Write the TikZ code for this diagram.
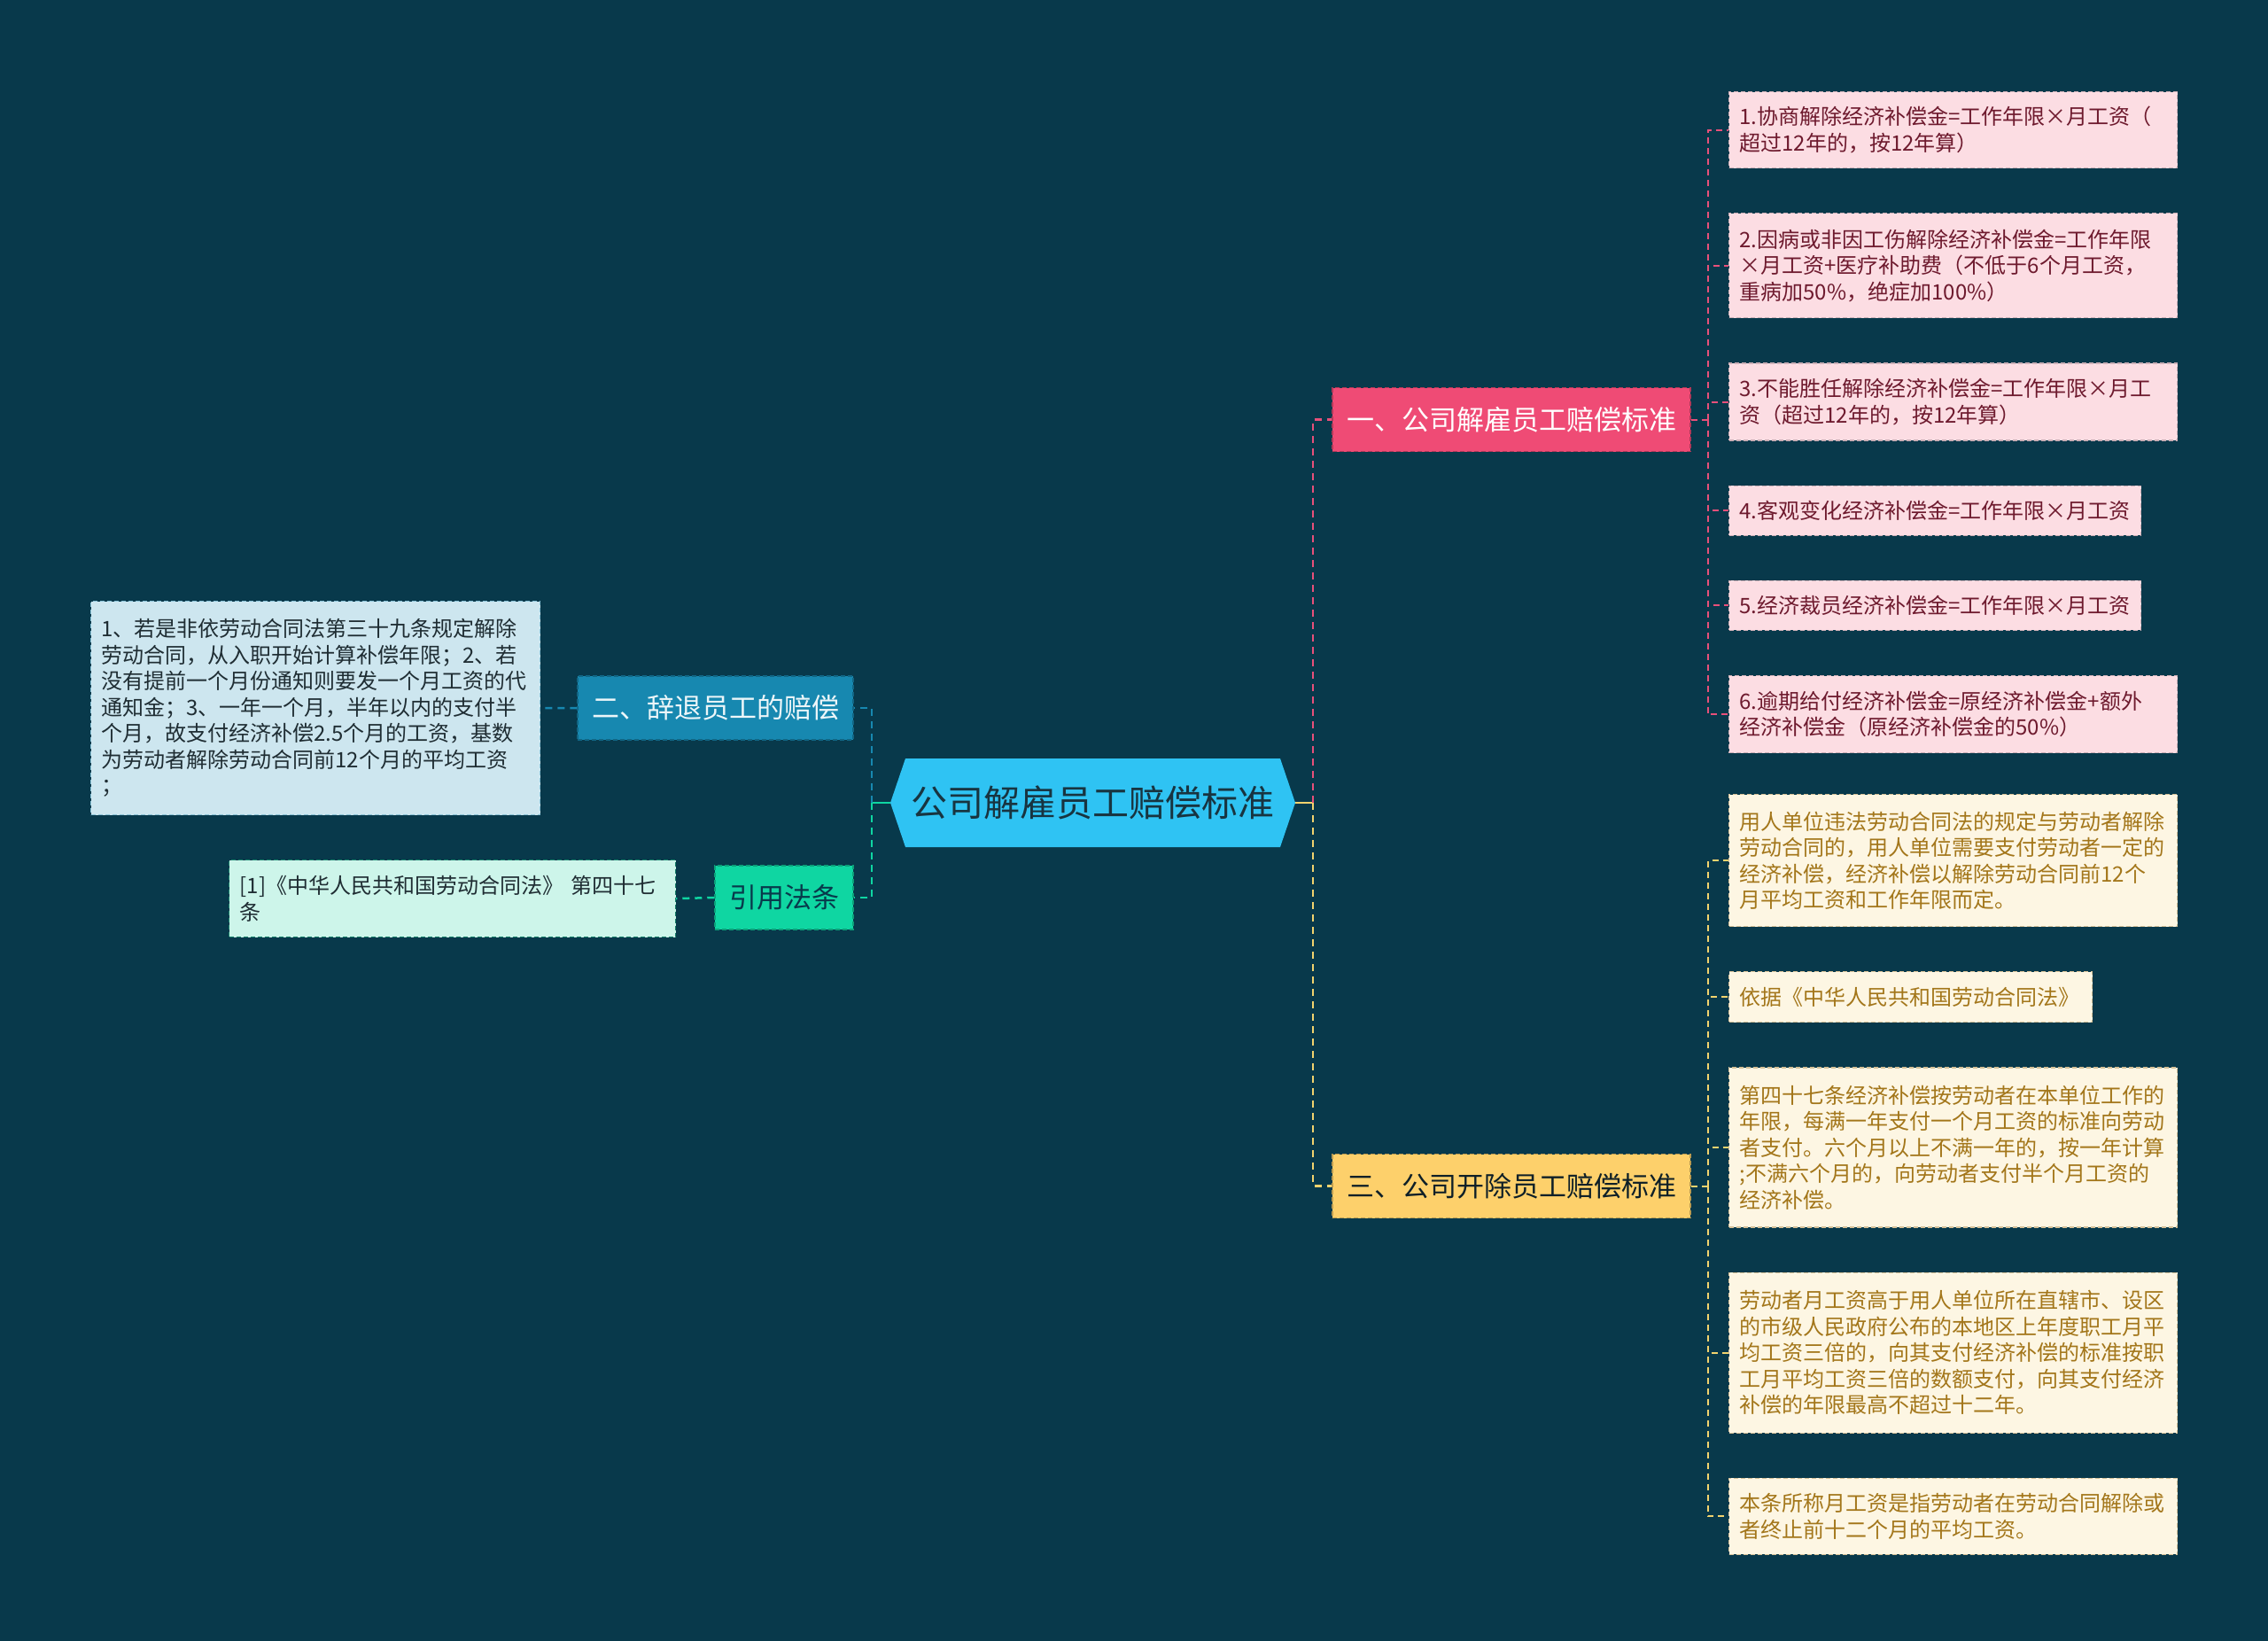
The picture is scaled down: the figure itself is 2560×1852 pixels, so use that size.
\documentclass[tikz,border=0pt]{standalone}
\usepackage{fontspec}
\setmainfont{Noto Sans CJK SC}
\usetikzlibrary{positioning}
\definecolor{bgcol}{HTML}{08394B}
\definecolor{rootfill}{HTML}{2FC3F3}
\definecolor{roottext}{HTML}{183440}
\definecolor{pinkfill}{HTML}{EF4B75}
\definecolor{pinkline}{HTML}{E8507A}
\definecolor{pinkleaf}{HTML}{FCDDE3}
\definecolor{pinktext}{HTML}{6E1A2E}
\definecolor{yellowfill}{HTML}{FDD06B}
\definecolor{yellowline}{HTML}{F2D36E}
\definecolor{yellowleaf}{HTML}{FDF6E3}
\definecolor{yellowtext}{HTML}{A3761A}
\definecolor{bluefill}{HTML}{1788B0}
\definecolor{blueleaf}{HTML}{CDE6EF}
\definecolor{greenfill}{HTML}{0FD6A2}
\definecolor{greenleaf}{HTML}{CDF5EA}
\definecolor{darktext}{HTML}{1F2D33}
\tikzstyle{topic} = [rectangle, text=roottext, font=\fontsize{41}{50}\selectfont, minimum width=457pt, minimum height=100pt, inner sep=0pt]
\tikzstyle{branch} = [rectangle, draw, dash pattern=on 5pt off 3pt, line width=1.5pt, minimum height=72pt, inner xsep=0pt, font=\fontsize{31}{36}\selectfont]
\tikzstyle{leafbox} = [rectangle, draw, dash pattern=on 5pt off 3pt, line width=1.2pt, anchor=north west, align=left, inner xsep=12pt, inner ysep=0pt, text width=482pt, font=\fontsize{24}{29.5}\selectfont]
\tikzstyle{pinkbox} = [leafbox, fill=pinkleaf, draw=pinktext!35, text=pinktext]
\tikzstyle{yellowbox} = [leafbox, fill=yellowleaf, draw=yellowtext!45, text=yellowtext]
\tikzstyle{link} = [line width=2.5pt, dash pattern=on 8pt off 6pt]
\tikzstyle{leaflink} = [line width=2pt, dash pattern=on 7pt off 5pt]

\begin{document}
\begin{tikzpicture}[x=1pt, y=-1pt]
\fill [bgcol] (0,0) rectangle (2560,1852);
% Nodes
\fill [rootfill] (1005,906) -- ++(17,-50) -- ++(423,0) -- ++(17,50) -- ++(-17,50) -- ++(-423,0) -- cycle;
\node (root) [topic] at (1233.5,906) {公司解雇员工赔偿标准};

\node (b1) [branch, fill=pinkfill, draw=pinkfill!75!black, text=white, minimum width=404pt] at (1706,473.5) {一、公司解雇员工赔偿标准};
\node (b3) [branch, fill=yellowfill, draw=yellowfill!75!black, text=roottext!60!black, minimum width=404pt] at (1706,1338.5) {三、公司开除员工赔偿标准};
\node (b2) [branch, fill=bluefill, draw=bluefill!75!black, text=white!92!bluefill, minimum width=311pt] at (807.5,799) {二、辞退员工的赔偿};
\node (b4) [branch, fill=greenfill, draw=greenfill!75!black, text=bgcol, minimum width=156pt] at (885,1013) {引用法条};

\node (p1) [pinkbox, minimum height=86pt] at (1951,103) {1.协商解除经济补偿金=工作年限×月工资（\\超过12年的，按12年算）};
\node (p2) [pinkbox, minimum height=118pt, below=50pt of p1.south west, anchor=north west] {2.因病或非因工伤解除经济补偿金=工作年限\\×月工资+医疗补助费（不低于6个月工资，\\重病加50\%，绝症加100\%）};
\node (p3) [pinkbox, minimum height=87pt, below=50pt of p2.south west, anchor=north west] {3.不能胜任解除经济补偿金=工作年限×月工\\资（超过12年的，按12年算）};
\node (p4) [pinkbox, minimum height=56pt, text width=441pt, below=50pt of p3.south west, anchor=north west] {4.客观变化经济补偿金=工作年限×月工资};
\node (p5) [pinkbox, minimum height=56pt, text width=441pt, below=50pt of p4.south west, anchor=north west] {5.经济裁员经济补偿金=工作年限×月工资};
\node (p6) [pinkbox, minimum height=87pt, below=50pt of p5.south west, anchor=north west] {6.逾期给付经济补偿金=原经济补偿金+额外\\经济补偿金（原经济补偿金的50\%）};

\node (y1) [yellowbox, minimum height=149pt] at (1951,896) {用人单位违法劳动合同法的规定与劳动者解除\\劳动合同的，用人单位需要支付劳动者一定的\\经济补偿，经济补偿以解除劳动合同前12个\\月平均工资和工作年限而定。};
\node (y2) [yellowbox, minimum height=57pt, text width=386pt, below=50pt of y1.south west, anchor=north west] {依据《中华人民共和国劳动合同法》};
\node (y3) [yellowbox, minimum height=180pt, below=50pt of y2.south west, anchor=north west] {第四十七条经济补偿按劳动者在本单位工作的\\年限，每满一年支付一个月工资的标准向劳动\\者支付。六个月以上不满一年的，按一年计算\\;不满六个月的，向劳动者支付半个月工资的\\经济补偿。};
\node (y4) [yellowbox, minimum height=181pt, below=50pt of y3.south west, anchor=north west] {劳动者月工资高于用人单位所在直辖市、设区\\的市级人民政府公布的本地区上年度职工月平\\均工资三倍的，向其支付经济补偿的标准按职\\工月平均工资三倍的数额支付，向其支付经济\\补偿的年限最高不超过十二年。};
\node (y5) [yellowbox, minimum height=86pt, below=50pt of y4.south west, anchor=north west] {本条所称月工资是指劳动者在劳动合同解除或\\者终止前十二个月的平均工资。};

\node (l1) [leafbox, fill=blueleaf, draw=bluefill!50, text=darktext, text width=483pt, minimum height=241pt] at (102,678) {1、若是非依劳动合同法第三十九条规定解除\\劳动合同，从入职开始计算补偿年限；2、若\\没有提前一个月份通知则要发一个月工资的代\\通知金；3、一年一个月，半年以内的支付半\\个月，故支付经济补偿2.5个月的工资，基数\\为劳动者解除劳动合同前12个月的平均工资\\；};
\node (l2) [leafbox, fill=greenleaf, draw=greenfill!50!darktext, text=darktext, text width=480pt, minimum height=87pt] at (258,970) {[1]《中华人民共和国劳动合同法》 第四十七\\条};

\coordinate (jl) at (984,906);
\coordinate (jr) at (1482,906);
\coordinate (j1) at (1928,473.5);
\coordinate (j3) at (1928,1338.5);

% Connections
\draw [link, solid, draw=greenfill] (root.west) -- (jl);
\draw [link, draw=bluefill] (jl) |- (b2.east);
\draw [link, draw=greenfill] (jl) |- (b4.east);
\draw [link, solid, draw=yellowline] (root.east) -- (jr);
\draw [link, draw=pinkline] (jr) |- (b1.west);
\draw [link, draw=yellowline] (jr) |- (b3.west);

\draw [leaflink, draw=pinkline] (b1.east) -- (j1);
\foreach \n in {1,...,6}
  \draw [leaflink, draw=pinkline] (j1) |- (p\n.west);
\draw [leaflink, draw=yellowline] (b3.east) -- (j3);
\foreach \n in {1,...,5}
  \draw [leaflink, draw=yellowline] (j3) |- (y\n.west);

\draw [link, draw=bluefill] (b2.west) -- (l1.east);
\draw [link, draw=greenfill] (b4.west) -- (l2.east);

\end{tikzpicture}
\end{document}
